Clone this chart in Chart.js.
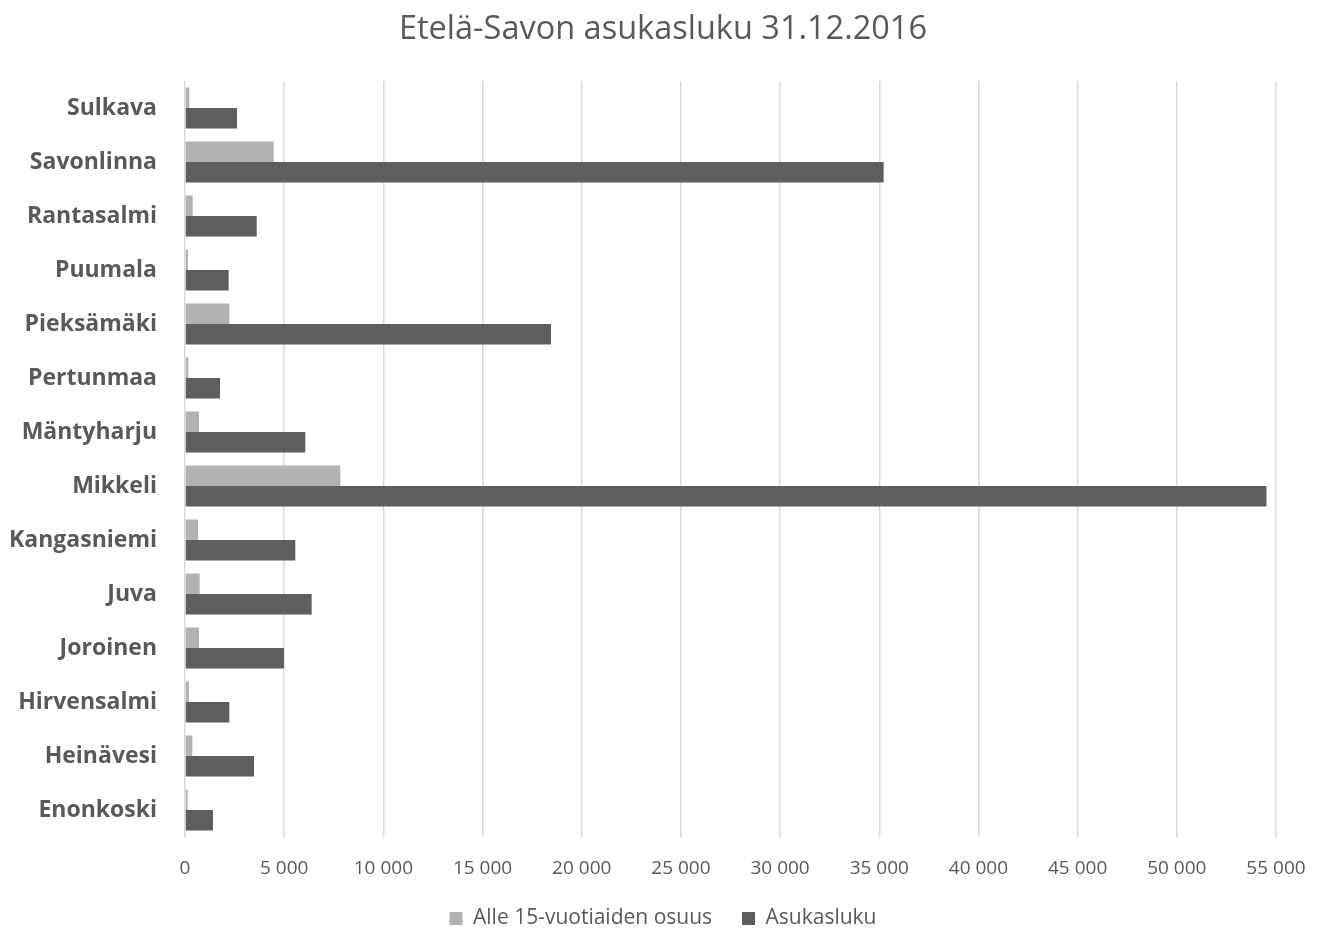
<!DOCTYPE html>
<html lang="fi">
<head>
    <meta charset="utf-8">
    <title>Etelä-Savon asukasluku</title>
    <script src="https://cdn.jsdelivr.net/npm/chart.js"></script>
    <style>
        html, body { margin: 0; padding: 0; background: #fff; }
        #wrap { width: 1326px; height: 928px; }
    </style>
</head>
<body>
    <div id="wrap"><canvas id="kaavio"></canvas></div>

    <script>
        const kunnat = ['Sulkava', 'Savonlinna', 'Rantasalmi', 'Puumala', 'Pieksämäki', 'Pertunmaa',
            'Mäntyharju', 'Mikkeli', 'Kangasniemi', 'Juva', 'Joroinen', 'Hirvensalmi', 'Heinävesi', 'Enonkoski'];
        const alle15 = [217, 4470, 390, 150, 2235, 165, 705, 7830, 655, 740, 705, 200, 370, 135];
        const asukasluku = [2620, 35220, 3615, 2200, 18450, 1765, 6065, 54520, 5560, 6385, 4990, 2235, 3480, 1410];
        const xTikit = [0, 5000, 10000, 15000, 20000, 25000, 30000, 35000, 40000, 45000, 50000, 55000];

        const harmaa = '#595959';
        const fontti = 'Open Sans';

        function muotoile(arvo) {
            return String(arvo).replace(/\B(?=(\d{3})+(?!\d))/g, ' ');
        }

        new Chart(document.getElementById('kaavio'), {
            type: 'bar',
            data: {
                labels: kunnat,
                datasets: [{
                    label: 'Alle 15-vuotiaiden osuus',
                    data: alle15,
                    backgroundColor: '#b2b2b2'
                }, {
                    label: 'Asukasluku',
                    data: asukasluku,
                    backgroundColor: '#5e5e5e'
                }]
            },
            options: {
                indexAxis: 'y',
                responsive: true,
                maintainAspectRatio: false,
                animation: false,
                layout: { padding: { left: 0, right: 0, top: 0, bottom: -11 } },
                datasets: {
                    bar: { barPercentage: 1.0, categoryPercentage: 0.76 }
                },
                scales: {
                    x: {
                        min: 0,
                        max: 55000,
                        afterBuildTicks: (scale) => { scale.ticks = xTikit.map(v => ({ value: v })); },
                        // oikea reuna tilaa ilman että otsikko siirtyy
                        afterFit: (scale) => { scale.height = 41; scale.paddingRight = 50; },
                        grid: { color: '#d9d9d9', lineWidth: 1.5, drawTicks: false },
                        border: { display: false },
                        ticks: {
                            padding: 20,
                            color: harmaa,
                            font: { family: fontti, size: 19 },
                            callback: (v) => muotoile(v)
                        }
                    },
                    y: {
                        afterFit: (scale) => { scale.width = 185; },
                        grid: { display: false, drawTicks: false },
                        border: { display: false },
                        ticks: {
                            padding: 28,
                            color: harmaa,
                            font: { family: fontti, size: 23, weight: 'bold' }
                        }
                    }
                },
                plugins: {
                    title: {
                        display: true,
                        text: 'Etelä-Savon asukasluku 31.12.2016',
                        color: harmaa,
                        font: { family: fontti, size: 32.5, weight: 'normal' },
                        padding: { top: 10, bottom: 32 }
                    },
                    legend: {
                        position: 'bottom',
                        labels: {
                            color: harmaa,
                            boxWidth: 13,
                            boxHeight: 13,
                            padding: 30,
                            font: { family: fontti, size: 21 }
                        }
                    },
                    tooltip: { enabled: false }
                }
            }
        });
    </script>
</body>
</html>
